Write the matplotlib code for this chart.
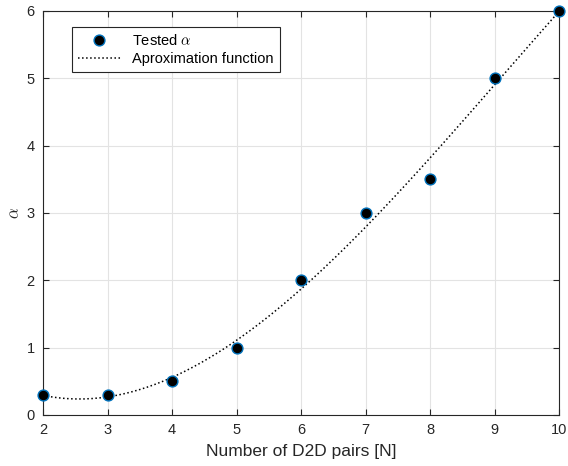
import numpy as np
import matplotlib
import matplotlib.pyplot as plt

matplotlib.use('Agg')

# tested values
n_pairs = [2, 3, 4, 5, 6, 7, 8, 9, 10]
alpha_tested = [0.3, 0.3, 0.5, 1.0, 2.0, 3.0, 3.5, 5.0, 6.0]
x_ticks = [2, 3, 4, 5, 6, 7, 8, 9, 10]
y_ticks = [0, 1, 2, 3, 4, 5, 6]

plt.rcParams['font.family'] = ['Liberation Sans', 'DejaVu Sans']
plt.rcParams['mathtext.fontset'] = 'cm'


def main() -> None:
    # cubic fit of the tested points (the dotted approximation)
    coeffs = np.polyfit(n_pairs, alpha_tested, 3)
    x_fine = np.linspace(min(n_pairs), max(n_pairs), 200)

    fig = plt.figure(figsize=(5.68, 4.66), dpi=100)
    ax = fig.add_axes([43 / 568, 51 / 466, 516 / 568, 404 / 466])

    ax.plot(n_pairs, alpha_tested, 'o', color='black', markersize=7.8,
            markeredgecolor='#0072BD', markeredgewidth=1.0, label=r'Tested $\alpha$',
            zorder=4, clip_on=False)
    ax.plot(x_fine, np.polyval(coeffs, x_fine), ':', color='black', linewidth=1.1,
            label='Aproximation function', zorder=3)

    ax.set_xlim(2, 10)
    ax.set_ylim(0, 6)
    ax.set_xticks(x_ticks)
    ax.set_yticks(y_ticks)
    ax.grid(True, color='#e3e3e3', linewidth=0.8)
    ax.set_axisbelow(True)

    for spine in ax.spines.values():
        spine.set_color('#262626')
        spine.set_linewidth(0.8)
    ax.tick_params(direction='in', length=4, width=0.8, colors='#262626',
                   top=True, right=True, labelsize=10.5, pad=6)

    ax.set_xlabel('Number of D2D pairs [N]', fontsize=12.5, color='#262626', labelpad=5)
    ax.set_ylabel(r'$\alpha$', fontsize=12, color='#262626', labelpad=3)

    leg = ax.legend(loc='upper left', bbox_to_anchor=(0.0562, 0.9597), borderaxespad=0,
                    fontsize=10.5, frameon=True, fancybox=False, handlelength=2.95,
                    borderpad=0.39, labelspacing=0.3, handletextpad=0.8)
    leg.get_frame().set_edgecolor('#262626')
    leg.get_frame().set_linewidth(0.8)
    leg.get_frame().set_alpha(1)

    fig.savefig('out.png', dpi=100)


if __name__ == '__main__':
    main()
